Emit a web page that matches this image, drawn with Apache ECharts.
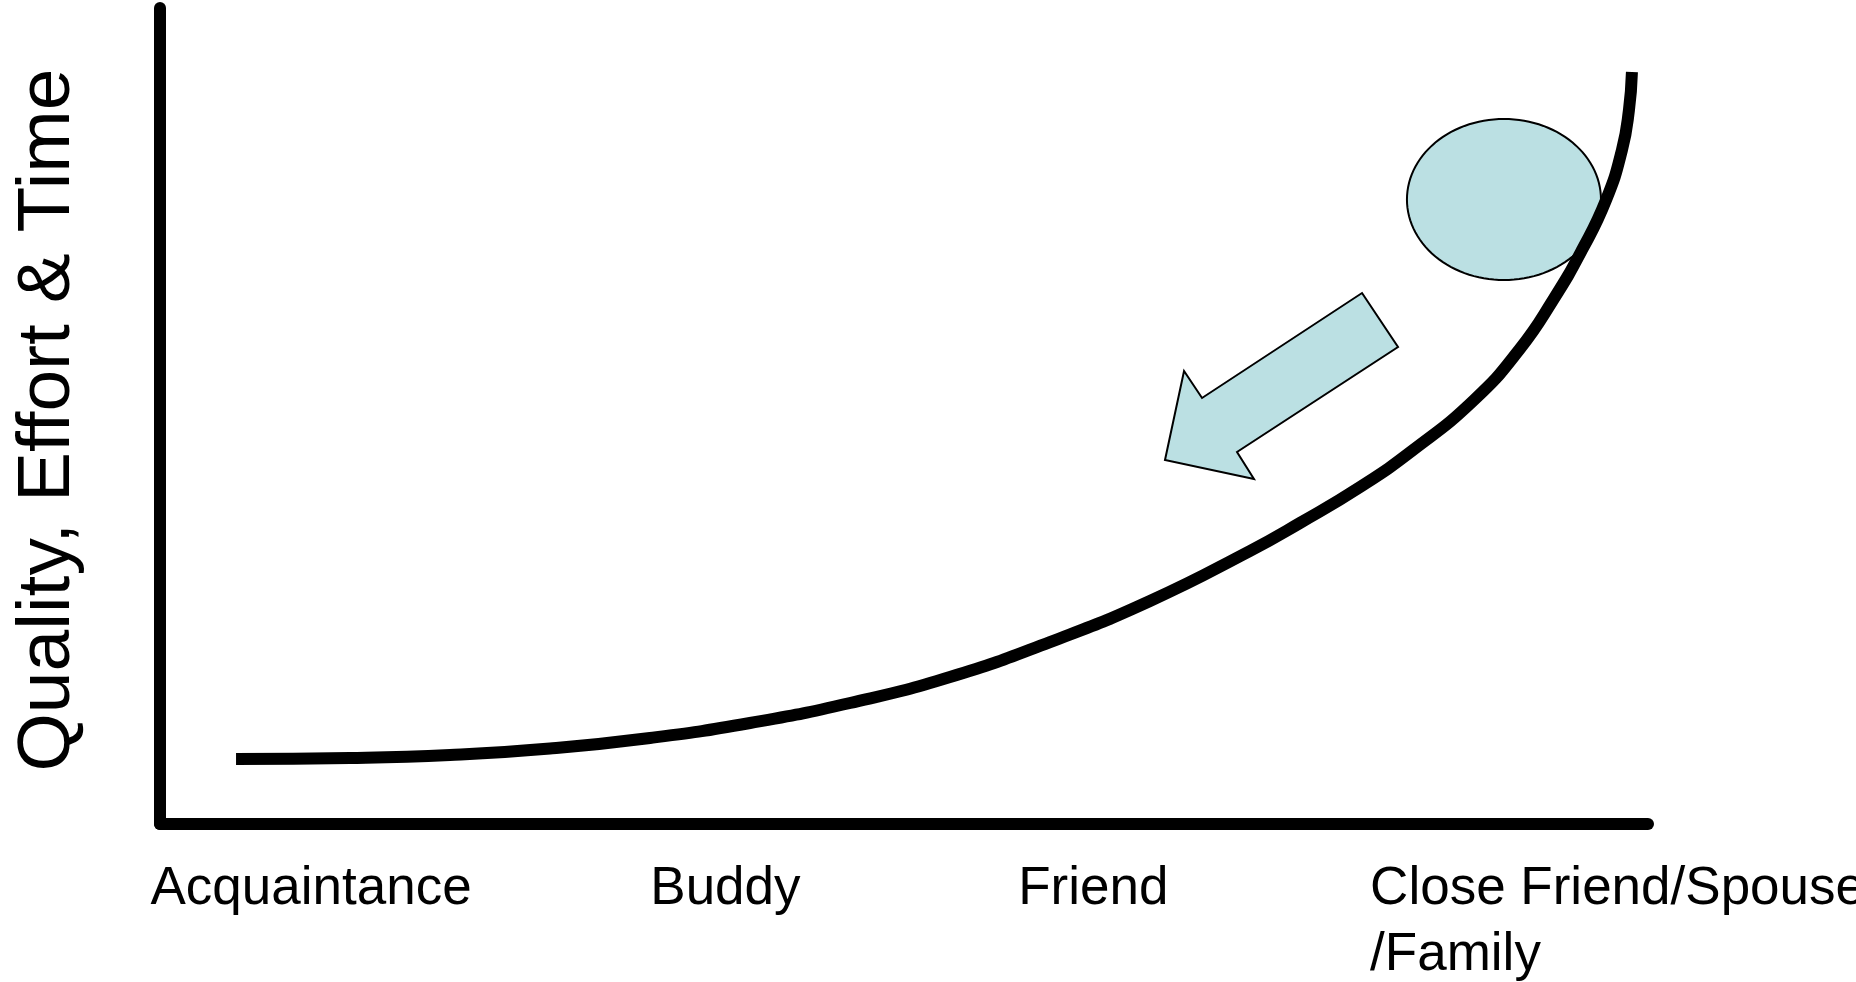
<!DOCTYPE html>
<html>
<head>
<meta charset="utf-8">
<script src="https://cdn.jsdelivr.net/npm/echarts@6/dist/echarts.min.js"></script>
<style>
html,body{margin:0;padding:0;background:#fff;}
#chart{width:1856px;height:982px;}
</style>
</head>
<body>
<div id="chart"></div>
<script>
// ---- data ----
const yAxisTitle = 'Quality, Effort & Time';
const categories = ['Acquaintance', 'Buddy', 'Friend', 'Close Friend/Spouse\n/Family'];
const categoryTicks = [-0.67, 32.93, 57.66, 81.32];

const curveX = [5.11, 12.77, 19.49, 26.21, 32.93, 39.65, 46.37, 53.09, 59.81, 66.53, 73.25, 76.61, 80.65, 84.21, 88.31, 91.33, 93.62, 95.56, 97.18, 98.25, 98.72, 98.92];
const curveY = [7.97, 8.09, 8.46, 9.25, 10.54, 12.38, 14.83, 18.01, 22.30, 27.33, 33.46, 36.89, 41.30, 45.83, 51.96, 58.09, 64.22, 70.34, 76.47, 82.60, 87.50, 92.16];

const ballCenter = [90.32, 76.53];
const ballRadii = [6.52, 9.87];

const arrowX = [80.78, 83.20, 72.38, 73.52, 67.54, 68.82, 70.03];
const arrowY = [65.07, 58.46, 45.59, 42.28, 44.61, 55.51, 52.21];

// ---- chart ----
const FONT = "'Liberation Sans', Arial, Helvetica, sans-serif";
const FILL = '#BBE0E3';
const chart = echarts.init(document.getElementById('chart'), null, {renderer: 'canvas'});

const curveData = curveX.map((x, i) => [x, curveY[i]]);

chart.setOption({
  animation: false,
  backgroundColor: '#ffffff',
  grid: [
    {left: 160, right: 208, top: 8, bottom: 158, containLabel: false, outerBoundsMode: 'none'},
    {left: 150, right: 208, top: 8, bottom: 158, containLabel: false, outerBoundsMode: 'none'}
  ],
  xAxis: [
    {
      type: 'value',
      gridIndex: 0,
      min: 0,
      max: 100,
      axisLine: {show: true, onZero: false, lineStyle: {color: '#000', width: 12}},
      axisTick: {show: false},
      splitLine: {show: false},
      axisLabel: {show: false}
    },
    {
      type: 'value',
      gridIndex: 1,
      min: -0.7,
      max: 100,
      axisLine: {show: false},
      axisTick: {show: false},
      splitLine: {show: false},
      axisLabel: {
        show: true,
        customValues: categoryTicks,
        formatter: function (v) {
          let best = 0;
          for (let i = 0; i < categoryTicks.length; i++) {
            if (Math.abs(categoryTicks[i] - v) < Math.abs(categoryTicks[best] - v)) best = i;
          }
          return categories[best];
        },
        align: 'left',
        margin: 32,
        fontSize: 53,
        lineHeight: 66,
        fontFamily: FONT,
        color: '#000',
        showMinLabel: true,
        showMaxLabel: true,
        hideOverlap: false
      }
    }
  ],
  yAxis: [
    {
      type: 'value',
      gridIndex: 0,
      min: 0,
      max: 100,
      name: yAxisTitle,
      nameLocation: 'middle',
      nameGap: 74,
      nameTextStyle: {fontSize: 75, fontFamily: FONT, color: '#000', padding: [0, 8, 0, 0]},
      axisLine: {show: true, onZero: false, lineStyle: {color: '#000', width: 12}},
      axisTick: {show: false},
      axisLabel: {show: false},
      splitLine: {show: false}
    },
    {
      type: 'value',
      gridIndex: 1,
      min: 0,
      max: 100,
      show: false
    }
  ],
  series: [
    {
      type: 'custom',
      name: 'ball',
      z: 1,
      silent: true,
      xAxisIndex: 0,
      yAxisIndex: 0,
      data: [[ballCenter[0], ballCenter[1], ballRadii[0], ballRadii[1]]],
      renderItem: function (params, api) {
        const c = api.coord([api.value(0), api.value(1)]);
        const s = api.size([api.value(2), api.value(3)]);
        const pts = [];
        for (let k = 0; k < 120; k++) {
          const t = k / 120 * Math.PI * 2;
          pts.push([c[0] + s[0] * Math.cos(t), c[1] + s[1] * Math.sin(t)]);
        }
        return {type: 'polygon', shape: {points: pts}, style: {fill: FILL, stroke: '#000', lineWidth: 2}};
      }
    },
    {
      type: 'custom',
      name: 'arrow',
      z: 1,
      silent: true,
      xAxisIndex: 0,
      yAxisIndex: 0,
      data: [[arrowX[0], arrowY[0]]],
      renderItem: function (params, api) {
        const pts = arrowX.map((x, i) => api.coord([x, arrowY[i]]));
        return {type: 'polygon', shape: {points: pts}, style: {fill: FILL, stroke: '#000', lineWidth: 2, lineJoin: 'miter'}};
      }
    },
    {
      type: 'line',
      name: 'curve',
      z: 5,
      xAxisIndex: 0,
      yAxisIndex: 0,
      data: curveData,
      smooth: 0.5,
      showSymbol: false,
      symbol: 'none',
      lineStyle: {color: '#000', width: 12, cap: 'butt'},
      silent: true
    }
  ]
});
</script>
</body>
</html>
